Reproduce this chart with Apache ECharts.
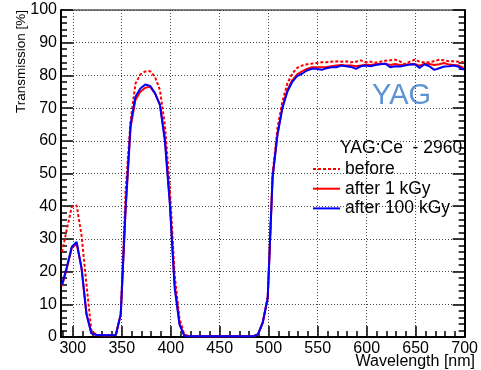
<!DOCTYPE html>
<html>
<head>
<meta charset="utf-8">
<script src="https://cdn.jsdelivr.net/npm/echarts@6/dist/echarts.min.js"></script>
<style>
  html, body { margin: 0; padding: 0; background: #fff; }
  #chart { width: 481px; height: 370px; }
</style>
</head>
<body>
<div id="chart"></div>
<script>
// Wavelength sampling [nm]
const wavelengths = [
  289, 294, 299, 304, 309, 314, 319, 324, 329, 334, 339, 344, 349, 354, 359, 364, 369, 374, 379, 384,
  389, 394, 399, 404, 409, 414, 419, 424, 429, 434, 439, 444, 449, 454, 459, 464, 469, 474, 479, 484,
  489, 494, 499, 504, 509, 514, 519, 524, 529, 534, 539, 544, 549, 554, 559, 564, 569, 574, 579, 584,
  589, 594, 599, 604, 609, 614, 619, 624, 629, 634, 639, 644, 649, 654, 659, 664, 669, 674, 679, 684,
  689, 694, 699
];

// Transmission [%] of YAG:Ce sample 2960
const before = [
  26, 33, 39.8, 40.2, 31, 16, 2, 0.7, 0.5, 0.5, 0.5, 0.6, 7, 45, 66, 77.5, 80.3, 81.2, 81.3, 79.5,
  75.5, 65, 46, 19, 5.5, 0.7, 0.3, 0.3, 0.3, 0.3, 0.3, 0.3, 0.3, 0.3, 0.3, 0.3, 0.3, 0.3, 0.3, 0.3,
  0.8, 4.5, 12, 50, 64, 72, 77.5, 80.5, 82.3, 83, 83.4, 83.6, 83.8, 84, 84, 84.2, 84.3, 84.2, 84.3, 84,
  84.2, 84.6, 84, 84.2, 83.9, 84.2, 84.5, 84.6, 84.8, 84.3, 83.4, 84.2, 84.8, 84.2, 84, 84, 84.4, 84.8, 84.6, 84.3,
  84.3, 84.2, 84
];
const after1kGy = [
  15.5, 21, 27.2, 28.5, 21, 7, 1.2, 0.6, 0.5, 0.5, 0.5, 0.6, 7, 39, 64, 72.5, 75, 76.2, 76.5, 74.5,
  71, 61, 42, 16, 4, 0.4, 0.2, 0.2, 0.2, 0.2, 0.2, 0.2, 0.2, 0.2, 0.2, 0.2, 0.2, 0.2, 0.2, 0.2,
  0.7, 4.5, 12, 49, 62, 70.5, 75.5, 78.5, 80.3, 81.2, 82, 82.5, 82.5, 82.5, 82.6, 82.8, 83, 83.2, 83, 83,
  82.8, 83, 83.3, 83.2, 83.4, 83.6, 83.6, 83.2, 83.5, 83.2, 83.3, 83.4, 83.5, 83, 83.6, 83.5, 83.2, 83.4, 83.8, 83.3,
  83.2, 83, 82.3
];
const after100kGy = [
  16, 21.5, 27.6, 29.1, 21, 7, 1.1, 0.7, 0.5, 0.5, 0.5, 0.6, 7, 40, 65, 73.5, 76, 77.2, 76.8, 74.5,
  71, 60, 41, 15, 3.8, 0.3, 0.2, 0.2, 0.2, 0.2, 0.2, 0.2, 0.2, 0.2, 0.2, 0.2, 0.2, 0.2, 0.2, 0.2,
  0.8, 4.5, 12, 49, 62, 70, 75, 78, 79.8, 80.5, 81.5, 82, 82, 81.7, 82.2, 82.5, 82.5, 83, 82.8, 82.6,
  82, 82.8, 83, 82.8, 83.2, 83.4, 83.6, 82.5, 82.8, 82.7, 83, 83.3, 83.4, 82.3, 83.4, 82.8, 81.7, 82.2, 82.7, 82.8,
  83, 82.6, 81.7
];

// Axis ticks
const xMajorTicks = [300, 350, 400, 450, 500, 550, 600, 650, 700];
const xMinorTicks = [290, 310, 320, 330, 340, 360, 370, 380, 390, 410, 420, 430, 440, 460, 470, 480, 490,
  510, 520, 530, 540, 560, 570, 580, 590, 610, 620, 630, 640, 660, 670, 680, 690];

const FONT = 'Liberation Sans';
const pairs = (ys) => wavelengths.map((x, i) => [x, ys[i]]);

const chart = echarts.init(document.getElementById('chart'), null, { renderer: 'canvas' });

const dottedGrid = { show: true, lineStyle: { color: '#444', width: 1, type: [1, 2] } };

chart.setOption({
  animation: false,
  backgroundColor: '#fff',
  grid: {
    left: 61, top: 10, right: 8, bottom: 33,
    show: true, borderColor: '#000', borderWidth: 1, backgroundColor: 'transparent'
  },
  xAxis: [
    {
      type: 'value', min: 288, max: 700,
      axisLine: { show: true, onZero: false, lineStyle: { color: '#000', width: 2 } },
      axisTick: { show: true, inside: true, length: 11, customValues: xMajorTicks, lineStyle: { color: '#000', width: 1.5 } },
      axisLabel: { customValues: xMajorTicks, margin: 4, color: '#000', fontFamily: FONT, fontSize: 16 },
      splitLine: dottedGrid
    },
    {
      type: 'value', min: 288, max: 700, position: 'bottom',
      axisLine: { show: false },
      axisTick: { show: true, inside: true, length: 6, customValues: xMinorTicks, lineStyle: { color: '#000', width: 1.5 } },
      axisLabel: { show: false },
      splitLine: { show: false }
    }
  ],
  yAxis: [
    {
      type: 'value', min: 0, max: 100, interval: 10,
      axisLine: { show: true, onZero: false, lineStyle: { color: '#000', width: 2 } },
      axisTick: { show: true, inside: true, length: 12, lineStyle: { color: '#000', width: 1.5 } },
      minorTick: { show: true, splitNumber: 5, length: 6, lineStyle: { color: '#000', width: 1.5 } },
      axisLabel: { margin: 4, color: '#000', fontFamily: FONT, fontSize: 16 },
      splitLine: dottedGrid
    },
    {
      type: 'value', min: 0, max: 100, interval: 10, position: 'right',
      axisLine: { show: true, onZero: false, lineStyle: { color: '#000', width: 2 } },
      axisTick: { show: true, inside: true, length: 12, lineStyle: { color: '#000', width: 1.5 } },
      minorTick: { show: true, splitNumber: 5, length: 6, lineStyle: { color: '#000', width: 1.5 } },
      axisLabel: { show: false },
      splitLine: { show: false }
    }
  ],
  legend: {
    orient: 'vertical', left: 307, top: 155,
    itemWidth: 27, itemHeight: 14, itemGap: 1.7,
    itemStyle: { opacity: 0 },
    textStyle: { color: '#000', fontFamily: FONT, fontSize: 17.5, lineHeight: 18 },
    data: ['before', 'after 1 kGy', 'after 100 kGy']
  },
  graphic: [
    {
      type: 'text', x: 21, y: 10, rotation: Math.PI / 2,
      style: { text: 'Transmission [%]', fill: '#000', font: '13.5px "Liberation Sans"', align: 'right', verticalAlign: 'middle' }
    },
    {
      type: 'text', x: 475, y: 362,
      style: { text: 'Wavelength [nm]', fill: '#000', font: '16px "Liberation Sans"', align: 'right', verticalAlign: 'middle' }
    },
    {
      type: 'text', x: 340, y: 148,
      style: { text: 'YAG:Ce  - 2960', fill: '#000', font: '17.5px "Liberation Sans"', align: 'left', verticalAlign: 'middle' }
    },
    {
      type: 'text', x: 372, y: 96,
      style: { text: 'YAG', fill: '#5b93d3', font: '29px "Liberation Sans"', align: 'left', verticalAlign: 'middle' }
    }
  ],
  series: [
    {
      name: 'before', type: 'line', data: pairs(before), symbol: 'none',
      lineStyle: { color: '#ff0000', width: 2, type: [3, 2] }, itemStyle: { color: '#ff0000' }
    },
    {
      name: 'after 1 kGy', type: 'line', data: pairs(after1kGy), symbol: 'none',
      lineStyle: { color: '#ff0000', width: 2 }, itemStyle: { color: '#ff0000' }
    },
    {
      name: 'after 100 kGy', type: 'line', data: pairs(after100kGy), symbol: 'none',
      lineStyle: { color: '#0000ff', width: 2 }, itemStyle: { color: '#0000ff' }
    }
  ]
});
</script>
</body>
</html>
